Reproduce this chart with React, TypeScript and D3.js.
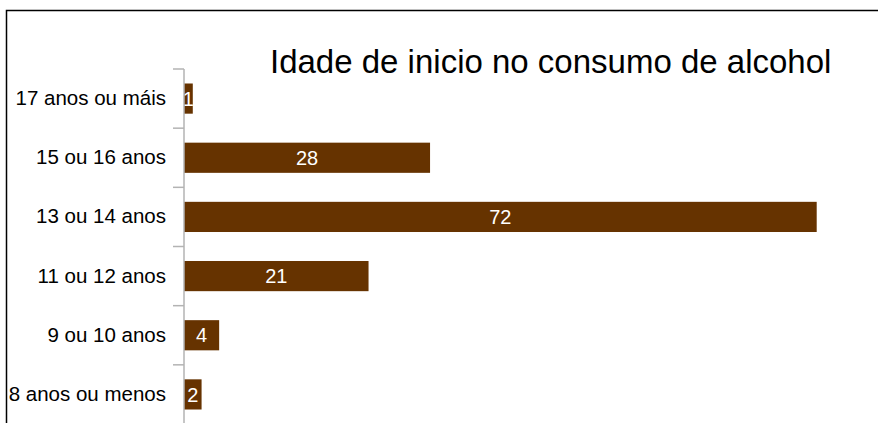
import React, { useRef, useEffect } from 'react';
import * as d3 from 'd3';

const categories = [
  '17 anos ou máis',
  '15 ou 16 anos',
  '13 ou 14 anos',
  '11 ou 12 anos',
  '9 ou 10 anos',
  '8 anos ou menos',
];
const values = [1, 28, 72, 21, 4, 2];
const title = 'Idade de inicio no consumo de alcohol';

const width = 878;
const height = 423;

const App: React.FC = () => {
  const svgRef = useRef<SVGSVGElement>(null);

  useEffect(() => {
    if (!svgRef.current) return;
    const svg = d3.select(svgRef.current);
    svg.selectAll('*').remove();

    const font = 'Liberation Sans, Arial, sans-serif';

    // outer frame (right/bottom edges fall outside the window)
    svg.append('rect')
      .attr('x', 6.5)
      .attr('y', 10.5)
      .attr('width', 880)
      .attr('height', 430)
      .attr('fill', '#fff')
      .attr('stroke', '#000')
      .attr('stroke-width', 1.5);

    svg.append('text')
      .attr('x', 270)
      .attr('y', 73)
      .attr('font-family', font)
      .attr('font-size', 33)
      .attr('fill', '#000')
      .text(title);

    const axisX = 184;
    const xScale = d3.scaleLinear().domain([0, 80]).range([axisX, axisX + 703]);
    const yScale = d3.scaleBand<string>()
      .domain(categories)
      .range([69, 424])
      .paddingInner(0.49)
      .paddingOuter(0.245);

    const data = categories.map((c, i) => ({ c, v: values[i] }));

    svg.selectAll('.bar')
      .data(data)
      .enter()
      .append('rect')
      .attr('class', 'bar')
      .attr('x', xScale(0))
      .attr('y', d => yScale(d.c)!)
      .attr('width', d => xScale(d.v) - xScale(0))
      .attr('height', yScale.bandwidth())
      .attr('fill', '#663300');

    svg.selectAll('.val')
      .data(data)
      .enter()
      .append('text')
      .attr('class', 'val')
      .attr('x', d => (xScale(0) + xScale(d.v)) / 2)
      .attr('y', d => yScale(d.c)! + yScale.bandwidth() / 2)
      .attr('dy', '0.36em')
      .attr('text-anchor', 'middle')
      .attr('font-family', font)
      .attr('font-size', 20)
      .attr('fill', '#fff')
      .text(d => d.v);

    // category axis
    const yAxis = d3.axisLeft(yScale).tickSize(0).tickPadding(18);
    const ag = svg.append('g')
      .attr('transform', `translate(${axisX},0)`)
      .call(yAxis);
    ag.select('.domain').remove();
    ag.selectAll('text')
      .attr('font-family', font)
      .attr('font-size', 20.5)
      .attr('fill', '#000');

    const step = yScale.step();
    const tickYs = d3.range(categories.length + 1).map(i => 69 + i * step);
    svg.append('line')
      .attr('x1', axisX).attr('x2', axisX)
      .attr('y1', 69).attr('y2', 424)
      .attr('stroke', '#b3b3b3')
      .attr('stroke-width', 1.5);
    svg.selectAll('.tk')
      .data(tickYs)
      .enter()
      .append('line')
      .attr('class', 'tk')
      .attr('x1', axisX - 11).attr('x2', axisX)
      .attr('y1', d => d).attr('y2', d => d)
      .attr('stroke', '#b3b3b3')
      .attr('stroke-width', 1.5);
  }, []);

  return (
    <svg
      ref={svgRef}
      width={width}
      height={height}
      style={{ position: 'absolute', left: 0, top: 0, display: 'block' }}
    />
  );
};

export default App;
